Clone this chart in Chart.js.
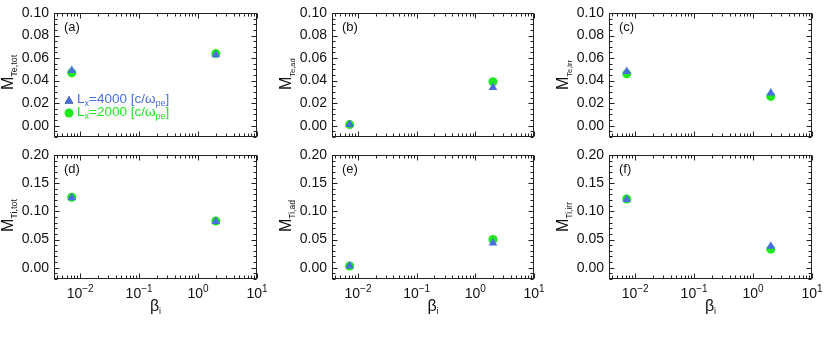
<!DOCTYPE html>
<html>
<head>
<meta charset="utf-8">
<script src="https://cdn.jsdelivr.net/npm/chart.js@4.4.1/dist/chart.umd.min.js"></script>
<style>
body { margin: 0; background: #fff; width: 830px; height: 343px; position: relative; overflow: hidden; }
canvas { position: absolute; }
</style>
</head>
<body>
<script>
// beta_i of the two runs
const beta = [0.0072, 2.0];

// Lx = 4000 runs (triangles) and Lx = 2000 runs (circles)
const teTot4000 = [0.049, 0.063], teTot2000 = [0.047, 0.064];
const teAd4000 = [0.001, 0.034], teAd2000 = [0.001, 0.039];
const teIrr4000 = [0.048, 0.029], teIrr2000 = [0.046, 0.026];
const tiTot4000 = [0.124, 0.082], tiTot2000 = [0.125, 0.083];
const tiAd4000 = [0.003, 0.044], tiAd2000 = [0.003, 0.050];
const tiIrr4000 = [0.121, 0.038], tiIrr2000 = [0.122, 0.033];

const yTicksTop = [0, 0.02, 0.04, 0.06, 0.08, 0.10];
const yTicksBottom = [0, 0.05, 0.10, 0.15, 0.20];
const xDecades = [-2, -1, 0, 1];

const BLUE = '#4a6ee0';
const GREEN = '#1ee81e';
const FONT = '"Liberation Sans", Arial, Helvetica, sans-serif';

const panels = [
  { tag: '(a)', sub: 'Te,tot', subSize: 9, a: teTot4000, b: teTot2000, row: 0, col: 0, legend: true },
  { tag: '(b)', sub: 'Te,ad', subSize: 7.5, a: teAd4000, b: teAd2000, row: 0, col: 1 },
  { tag: '(c)', sub: 'Te,irr', subSize: 7.5, a: teIrr4000, b: teIrr2000, row: 0, col: 2 },
  { tag: '(d)', sub: 'Ti,tot', subSize: 9, a: tiTot4000, b: tiTot2000, row: 1, col: 0 },
  { tag: '(e)', sub: 'Ti,ad', subSize: 8.5, a: tiAd4000, b: tiAd2000, row: 1, col: 1 },
  { tag: '(f)', sub: 'Ti,irr', subSize: 8.5, a: tiIrr4000, b: tiIrr2000, row: 1, col: 2 }
];

const colLeft = [54, 332, 609];
const colWidth = [203, 202, 203];
const rowTop = [13, 155];
const plotH = 124;
const AXW = 54, PADT = 10, PADR = 14;

function textSub(ctx, x, y, main, mainFont, sub, subFont, dy) {
  ctx.font = mainFont;
  ctx.fillText(main, x, y);
  const w = ctx.measureText(main).width;
  ctx.font = subFont;
  ctx.fillText(sub, x + w, y + dy);
}

const framePlugin = {
  id: 'frame',
  beforeDatasetsDraw(chart) {
    const { ctx, chartArea: ca } = chart;
    const xs = chart.scales.x, ys = chart.scales.y;
    const p = chart.options.plugins.frame;
    ctx.save();
    ctx.strokeStyle = '#222';
    ctx.lineWidth = 1;
    const L = Math.round(ca.left) + 0.5, R = Math.round(ca.right) - 0.5;
    const T = Math.round(ca.top) + 0.5, B = Math.round(ca.bottom) - 0.5;
    ctx.strokeRect(L, T, R - L, B - T);
    ctx.beginPath();
    // x ticks, bottom and top
    for (let d = -3; d <= 1; d++) {
      for (let k = 1; k <= 9; k++) {
        const v = k * Math.pow(10, d);
        if (v < xs.min || v > xs.max) continue;
        const len = k === 1 ? 5 : 3;
        const px = Math.round(xs.getPixelForValue(v)) + 0.5;
        ctx.moveTo(px, B); ctx.lineTo(px, B - len);
        ctx.moveTo(px, T); ctx.lineTo(px, T + len);
      }
    }
    // y ticks, left and right
    const step = p.minor;
    for (let v = ys.min; v <= ys.max + 1e-9; v += step) {
      const vv = Math.round(v / step) * step;
      if (vv < ys.min - 1e-9) continue;
      const major = p.major.some(m => Math.abs(m - vv) < 1e-9);
      const len = major ? 5 : 3;
      const py = Math.round(ys.getPixelForValue(vv)) + 0.5;
      ctx.moveTo(L, py); ctx.lineTo(L + len, py);
      ctx.moveTo(R, py); ctx.lineTo(R - len, py);
    }
    ctx.stroke();
    ctx.restore();
  },
  afterDraw(chart) {
    const { ctx, chartArea: ca } = chart;
    const xs = chart.scales.x;
    const p = chart.options.plugins.frame;
    ctx.save();
    ctx.fillStyle = '#111';
    ctx.textBaseline = 'alphabetic';
    ctx.textAlign = 'left';
    // panel tag
    ctx.font = '13px ' + FONT;
    ctx.fillText(p.tag, ca.left + 10, ca.top + 18);
    // y title
    ctx.save();
    ctx.translate(ca.left - 41, ca.bottom - 47);
    ctx.rotate(-Math.PI / 2);
    textSub(ctx, 0, 0, 'M', '16px ' + FONT, p.sub, p.subSize + 'px ' + FONT, 4);
    ctx.restore();
    if (p.xlabels) {
      xDecades.forEach(d => {
        const px = xs.getPixelForValue(Math.pow(10, d));
        const exp = d < 0 ? '\u2212' + (-d) : String(d);
        ctx.font = '14px ' + FONT;
        const w1 = ctx.measureText('10').width;
        ctx.font = '10px ' + FONT;
        const w2 = ctx.measureText(exp).width;
        const x0 = px - (w1 + w2) / 2;
        textSub(ctx, x0, ca.bottom + 19, '10', '14px ' + FONT, exp, '10px ' + FONT, -6);
      });
      ctx.font = '16px ' + FONT;
      const wb = ctx.measureText('\u03b2').width;
      ctx.font = '9px ' + FONT;
      const wi = ctx.measureText('i').width;
      const cx = (ca.left + ca.right) / 2;
      textSub(ctx, cx - (wb + wi) / 2, ca.bottom + 32, '\u03b2', '16px ' + FONT, 'i', '9px ' + FONT, 3);
    }
    if (p.legend) {
      const lx = ca.left + 15;
      Chart.helpers.drawPoint(ctx, { pointStyle: 'triangle', radius: 5, rotation: 0, borderWidth: 0 }, lx, ca.top + 88);
      ctx.fillStyle = BLUE;
      ctx.fill();
      ctx.beginPath();
      ctx.arc(lx, ca.top + 100, 4.5, 0, Math.PI * 2);
      ctx.fillStyle = GREEN;
      ctx.fill();
      const rows = [['4000', BLUE, ca.top + 90], ['2000', GREEN, ca.top + 103]];
      rows.forEach(([n, c, y]) => {
        ctx.fillStyle = c;
        let x = lx + 8;
        const big = '13.5px ' + FONT, small = '9px ' + FONT;
        ctx.font = big; ctx.fillText('L', x, y); x += ctx.measureText('L').width;
        ctx.font = small; ctx.fillText('x', x, y + 3); x += ctx.measureText('x').width;
        ctx.font = big; const s = '=' + n + ' [c/\u03c9'; ctx.fillText(s, x, y); x += ctx.measureText(s).width;
        ctx.font = small; ctx.fillText('pe', x, y + 3); x += ctx.measureText('pe').width;
        ctx.font = big; ctx.fillText(']', x, y);
      });
    }
    ctx.restore();
  }
};

panels.forEach(pn => {
  const bottomPad = pn.row === 1 ? 46 : 8;
  const w = AXW + colWidth[pn.col] + PADR;
  const h = PADT + plotH + bottomPad;
  const cv = document.createElement('canvas');
  cv.width = w; cv.height = h;
  cv.style.left = (colLeft[pn.col] - AXW) + 'px';
  cv.style.top = (rowTop[pn.row] - PADT) + 'px';
  cv.style.width = w + 'px'; cv.style.height = h + 'px';
  document.body.appendChild(cv);
  const top = pn.row === 0;
  const yTicks = top ? yTicksTop : yTicksBottom;
  new Chart(cv, {
    type: 'scatter',
    data: {
      datasets: [
        {
          label: 'Lx=4000',
          data: beta.map((b, i) => ({ x: b, y: pn.a[i] })),
          pointStyle: 'triangle', pointRadius: 5, pointBorderWidth: 0,
          backgroundColor: BLUE, borderColor: BLUE
        },
        {
          label: 'Lx=2000',
          data: beta.map((b, i) => ({ x: b, y: pn.b[i] })),
          pointStyle: 'circle', pointRadius: 4.5, pointBorderWidth: 0,
          backgroundColor: GREEN, borderColor: GREEN
        }
      ]
    },
    options: {
      responsive: false,
      animation: false,
      devicePixelRatio: 1,
      layout: { padding: { left: 0, top: PADT, right: PADR, bottom: bottomPad } },
      plugins: {
        legend: { display: false },
        tooltip: { enabled: false },
        frame: {
          tag: pn.tag, sub: pn.sub, subSize: pn.subSize,
          major: yTicks, minor: top ? 0.005 : 0.01,
          xlabels: !top, legend: !!pn.legend
        }
      },
      scales: {
        x: { type: 'logarithmic', min: 0.0036, max: 10, display: false },
        y: {
          type: 'linear',
          min: top ? -0.01 : -0.02,
          max: top ? 0.10 : 0.20,
          afterBuildTicks: s => { s.ticks = yTicks.map(v => ({ value: v })); },
          afterFit: s => { s.width = AXW; s.paddingTop = 0; s.paddingBottom = 0; },
          grid: { display: false, drawTicks: false },
          border: { display: false },
          ticks: {
            padding: 5,
            color: '#111',
            font: { family: FONT, size: 14 },
            callback: v => v.toFixed(2)
          }
        }
      }
    },
    plugins: [framePlugin]
  });
});
</script>
</body>
</html>
